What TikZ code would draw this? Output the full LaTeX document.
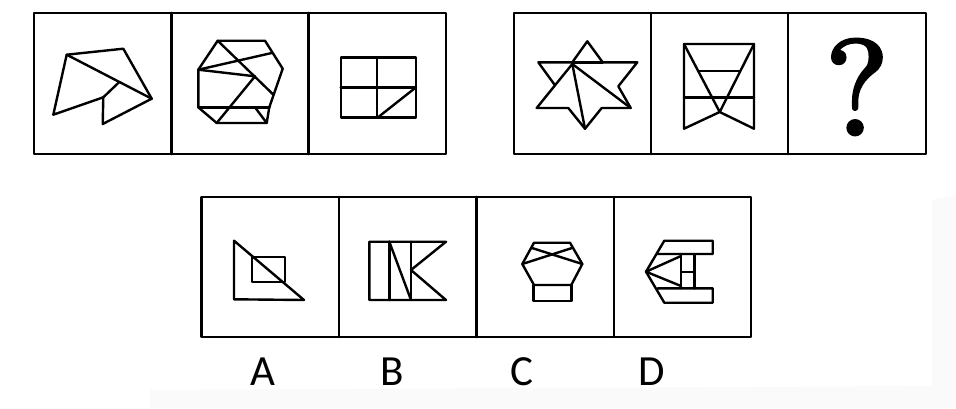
\documentclass[tikz,border=0pt]{standalone}
\usepackage{fontspec}
\newfontfamily\labfont{Carlito}
\newfontface\qface[FakeBold=2.2]{lmroman10-regular.otf}
\begin{document}
\begin{tikzpicture}[x=1pt,y=-1pt,line join=round,line cap=round,
  frame/.style={line width=2.6pt},
  fig/.style={line width=2.4pt},
  lab/.style={font=\labfont\fontsize{43}{43}\selectfont,inner sep=0pt}]
\useasboundingbox (0,0) rectangle (956,408);
\fill[white] (0,0) rectangle (956,408);
% faint watermark
\fill[gray!4] (932,200) -- (956,195) -- (956,408) -- (932,408) -- cycle;
\fill[gray!4] (150,390) -- (956,386) -- (956,408) -- (150,408) -- cycle;
% frames
\draw[frame] (34,13) rectangle (446,154);
\draw[frame] (171.5,13) -- (171.5,154) (308.5,13) -- (308.5,154);
\draw[frame] (514,13) rectangle (926,154);
\draw[frame] (651,13) -- (651,154) (788,13) -- (788,154);
\draw[frame] (201.5,197) rectangle (751,337);
\draw[frame] (339,197) -- (339,337) (476.5,197) -- (476.5,337) (614,197) -- (614,337);
% panel 1
\draw[fig] (66.7,54.7) -- (123.3,48.7) -- (151.7,98.7) -- (102.7,124) -- (103.3,97.3) -- (53.3,114.7) -- cycle;
\draw[fig] (66.7,54.7) -- (151.7,98.7);
\draw[fig] (103.3,97.3) -- (119.3,82);
% panel 2
\draw[fig] (217.7,40.7) -- (265,40.7) -- (282.7,68.7) -- (269.3,107.3) -- (266.7,123) -- (216.7,123) -- (198.3,107.3) -- (198.3,69.7) -- cycle;
\draw[fig] (198.3,107.3) -- (269.3,107.3);
\draw[fig] (255,107.3) -- (266.7,123);
\draw[fig] (217.7,40.7) -- (272.7,94);
\draw[fig] (198.3,69.7) -- (271.7,53);
\draw[fig] (198.3,69.7) -- (255,76.3) -- (216.7,123);
% panel 3
\draw[fig] (340.7,57.3) rectangle (416,117.3);
\draw[fig] (376.7,57.3) -- (376.7,117.3);
\draw[fig] (340.7,87.3) -- (416,87.3);
\draw[fig] (416,87.3) -- (378,117.3);
% panel 4 star
\draw[fig] (587.3,41.3) -- (602.7,62.3) -- (637.3,62.3) -- (618.3,86.3) -- (630.7,108) -- (601.7,108) -- (585,128.7) -- (568.3,108) -- (536.7,108) -- (555,85.3) -- (538.3,62.3) -- (572.3,62.3) -- cycle;
\draw[fig] (572.3,62.3) -- (602.7,62.3);
\draw[fig] (572.3,64) -- (555,85.3);
\draw[fig] (572.3,64) -- (585,128.7);
\draw[fig] (572.3,64) -- (630.7,108);
% panel 5
\draw[fig] (684,44) -- (754,44) -- (754,128.7) -- (719.7,112) -- (684,128.7) -- cycle;
\draw[fig] (684,44) -- (719.7,112) -- (754,44);
\draw[fig] (684,97.3) -- (754,97.3);
\draw[fig] (698,70.7) -- (740,70.7);
% panel 6
\node[inner sep=0pt,font=\qface\fontsize{136}{136}\selectfont] (q) at (857,87) {?};
% A
\draw[fig] (234,240.7) -- (234,299.3) -- (304,300) -- cycle;
\draw[fig] (252,256.7) rectangle (284.7,281.7);
% B
\draw[fig] (369.3,241.7) -- (446,241.7) -- (411,270) -- (446,300) -- (369.3,300) -- cycle;
\draw[fig] (389.3,241.7) -- (389.3,300);
\draw[fig] (411,241.7) -- (411,300);
\draw[fig] (389.3,241.7) -- (411,300);
% C
\draw[fig] (534,242.7) -- (570,242.7) -- (582.3,264) -- (571.3,285) -- (534,285) -- (522.3,264) -- cycle;
\draw[fig] (533.3,285) rectangle (571.3,300.7);
\draw[fig] (532,248) -- (582.3,264);
\draw[fig] (572,248) -- (522.3,264);
% D
\draw[fig] (646,271.7) -- (664.3,240.7) -- (712.7,240.7) -- (712.7,254) -- (657.7,254);
\draw[fig] (646,271.7) -- (664.3,302.7) -- (712.7,302.7) -- (712.7,288.3) -- (657.7,288.3);
\draw[fig] (681,254) -- (681,288.3) (694.3,254) -- (694.3,288.3) (681,271.7) -- (694.3,271.7);
\draw[fig] (646,271.7) -- (681,256) (646,271.7) -- (681,286);
% labels
\node[lab] (la) at (263.3,372) {A};
\node[lab] (lb) at (391.7,372) {B};
\node[lab] (lc) at (521.7,372) {C};
\node[lab] (ld) at (651.7,372) {D};
\end{tikzpicture}
\end{document}
